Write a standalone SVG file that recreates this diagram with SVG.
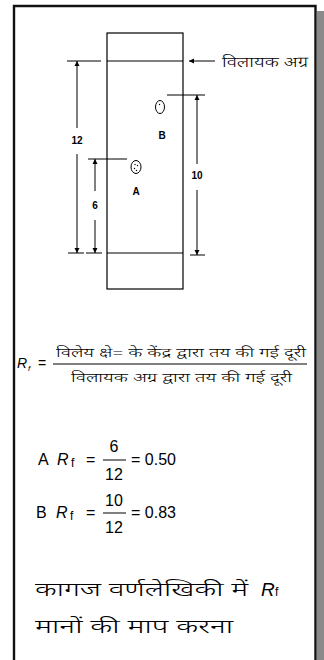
<svg xmlns="http://www.w3.org/2000/svg" width="324" height="660" viewBox="0 0 324 660">
<style>
.ln{stroke:#000;stroke-width:1.2;fill:none}
.dim{stroke:#000;stroke-width:1;fill:none}
.lbl{font-family:"Liberation Sans",Arial,sans-serif;font-weight:bold;font-size:10px;fill:#000;text-anchor:middle}
.hi{font-family:"Noto Sans Devanagari","Noto Sans","Liberation Sans",sans-serif;font-weight:300;fill:#000}
.math{font-family:"Liberation Sans",Arial,sans-serif;fill:#000}
</style>
<defs>
<marker id="ah" viewBox="0 0 10 10" refX="10" refY="5" markerWidth="5" markerHeight="9" markerUnits="userSpaceOnUse" orient="auto">
<path d="M0,0 L10,5 L0,10 Z" fill="#000"/>
</marker>
</defs>
<rect x="0" y="0" width="324" height="660" fill="#fff"/>
<rect x="317" y="11" width="7" height="649" fill="#8a8a8a"/>
<path d="M14,662 L14,6 L315.5,6 L315.5,662" fill="none" stroke="#111" stroke-width="2.4"/>
<g id="paper">
<rect x="107" y="33" width="76" height="256" class="ln"/>
<line x1="107" y1="61" x2="183" y2="61" class="ln"/>
<line x1="107" y1="253" x2="183" y2="253" class="ln"/>
</g>
<g id="spotB">
<ellipse cx="160" cy="107" rx="4.5" ry="6.5" fill="#fff" stroke="#000" stroke-width="1"/>
<circle cx="159.5" cy="104.5" r="0.7" fill="#000"/>
<text x="162" y="139" class="lbl">B</text>
</g>
<g id="spotA">
<ellipse cx="136" cy="167" rx="5" ry="6.5" fill="#fff" stroke="#000" stroke-width="1"/>
<circle cx="135" cy="164.5" r="0.7" fill="#000"/>
<circle cx="137.5" cy="165.5" r="0.7" fill="#000"/>
<circle cx="134.5" cy="168.5" r="0.7" fill="#000"/>
<circle cx="136.5" cy="170.5" r="0.7" fill="#000"/>
<text x="136" y="195" class="lbl">A</text>
</g>
<g id="front-label">
<text x="222" y="67" class="hi" font-size="15" textLength="86" lengthAdjust="spacingAndGlyphs">विलायक अग्र</text>
</g>
<g id="connectors">
<line x1="215" y1="61" x2="189" y2="61" class="dim" marker-end="url(#ah)"/>
<line x1="67" y1="61" x2="101" y2="61" class="dim"/>
<line x1="77" y1="128" x2="77" y2="61" class="dim" marker-end="url(#ah)"/>
<line x1="77" y1="154" x2="77" y2="253" class="dim" marker-end="url(#ah)"/>
<line x1="68" y1="253" x2="84" y2="253" class="dim"/>
<line x1="88" y1="159" x2="127" y2="159" class="dim"/>
<line x1="95" y1="191" x2="95" y2="159" class="dim" marker-end="url(#ah)"/>
<line x1="95" y1="220" x2="95" y2="253" class="dim" marker-end="url(#ah)"/>
<line x1="86" y1="253" x2="102" y2="253" class="dim"/>
<line x1="167" y1="95" x2="205" y2="95" class="dim"/>
<line x1="197" y1="164" x2="197" y2="95" class="dim" marker-end="url(#ah)"/>
<line x1="197" y1="190" x2="197" y2="255" class="dim" marker-end="url(#ah)"/>
<line x1="190" y1="255" x2="205" y2="255" class="dim"/>
</g>
<g id="dim-labels">
<text x="77" y="144" class="lbl">12</text>
<text x="95" y="209" class="lbl">6</text>
<text x="197" y="179" class="lbl">10</text>
</g>
<g id="formula">
<text x="17" y="368" class="math" font-size="14" font-style="italic">R</text>
<text x="28" y="371" class="math" font-size="8" font-style="italic">f</text>
<text x="38" y="368" class="math" font-size="14">=</text>
<line x1="53" y1="364" x2="307" y2="364" stroke="#000" stroke-width="1"/>
<text x="56" y="357" class="hi" font-size="13" textLength="250" lengthAdjust="spacingAndGlyphs">विलेय क्षे= के केंद्र द्वारा तय की गई दूरी</text>
<text x="71" y="382" class="hi" font-size="13" textLength="221" lengthAdjust="spacingAndGlyphs">विलायक अग्र द्वारा तय की गई दूरी</text>
</g>
<g id="rfA">
<text x="38" y="465" class="math" font-size="16">A</text>
<text x="57" y="465" class="math" font-size="16" font-style="italic">R</text>
<text x="71" y="467" class="math" font-size="12">f</text>
<text x="86" y="465" class="math" font-size="16">=</text>
<text x="114" y="452" class="math" font-size="16" text-anchor="middle">6</text>
<line x1="103" y1="460" x2="126" y2="460" stroke="#000" stroke-width="1"/>
<text x="114" y="480" class="math" font-size="16" text-anchor="middle">12</text>
<text x="131" y="465" class="math" font-size="16">= 0.50</text>
</g>
<g id="rfB">
<text x="36" y="518" class="math" font-size="16">B</text>
<text x="56" y="518" class="math" font-size="16" font-style="italic">R</text>
<text x="70" y="520" class="math" font-size="12">f</text>
<text x="86" y="518" class="math" font-size="16">=</text>
<text x="114" y="506" class="math" font-size="16" text-anchor="middle">10</text>
<line x1="103" y1="513" x2="126" y2="513" stroke="#000" stroke-width="1"/>
<text x="114" y="533" class="math" font-size="16" text-anchor="middle">12</text>
<text x="131" y="518" class="math" font-size="16">= 0.83</text>
</g>
<g id="caption">
<text x="35" y="596" class="hi" font-size="19" textLength="213" lengthAdjust="spacingAndGlyphs">कागज वर्णलेखिकी में</text>
<text x="261" y="596" class="math" font-size="19" font-style="italic">R</text>
<text x="275" y="596" class="math" font-size="12">f</text>
<text x="35" y="633" class="hi" font-size="19" textLength="198" lengthAdjust="spacingAndGlyphs">मानों की माप करना</text>
</g>
</svg>
